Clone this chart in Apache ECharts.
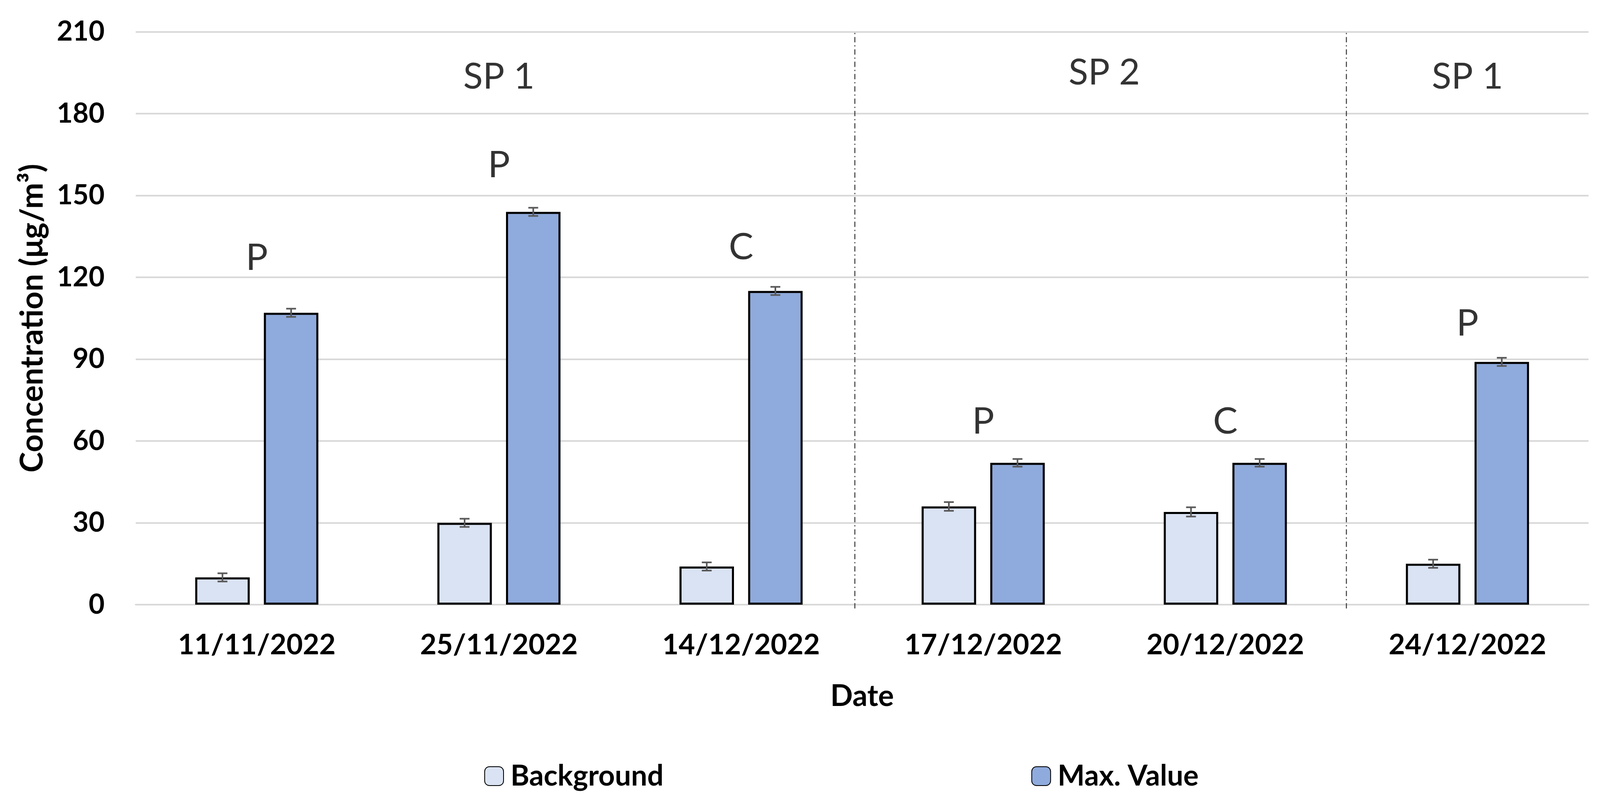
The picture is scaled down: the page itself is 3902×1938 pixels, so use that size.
<!DOCTYPE html>
<html>
<head>
<meta charset="utf-8">
<script src="https://cdn.jsdelivr.net/npm/echarts@6/dist/echarts.min.js"></script>
<style>
html,body{margin:0;padding:0;background:#fff;}
#chart{width:3902px;height:1938px;}
</style>
</head>
<body>
<div id="chart"></div>
<script>
// ---- data ----
const categories = ['11/11/2022','25/11/2022','14/12/2022','17/12/2022','20/12/2022','24/12/2022'];
const background = [10, 30, 14, 36, 34, 15];
const maxValue   = [107, 144, 115, 52, 52, 89];
const backgroundErr = [1.5, 1.5, 1.5, 1.6, 1.7, 1.5];
const maxValueErr   = [1.5, 1.5, 1.5, 1.4, 1.4, 1.5];
const letters       = ['P', 'P', 'C', 'P', 'C', 'P'];
const letterY       = [127, 161, 131, 67, 67, 103];
const siteLabels    = ['SP 1', 'SP 2', 'SP 1'];
const siteX         = [1.5, 4.0, 5.5];   // position on 0..6 category span
const siteY         = [193.5, 195, 193.5];
const separators    = [2.97, 5.0];
const separatorSpan = [-1.4, 210];
const yTicks = {min: 0, max: 210, interval: 30};

// ---- styling ----
const FONT = 'Lato';
const BAR_W = 0.225;      // fraction of category band
const BAR_GAP = 0.26;     // fraction of bar width
const colBg = '#dae3f3';
const colMax = '#8faadc';

function errRender(sIdx) {
  return function (params, api) {
    const ci = api.value(0), v = api.value(1), e = api.value(2);
    const p = api.coord([ci, v]);
    const band = api.size([1, 0])[0];
    const bw = band * BAR_W, gap = bw * BAR_GAP;
    const x = p[0] - (2 * bw + gap) / 2 + bw / 2 + sIdx * (bw + gap);
    const top = api.coord([ci, v + e])[1];
    const bot = api.coord([ci, v - e])[1];
    const cap = 12;
    const st = {stroke: '#595959', lineWidth: 4};
    return {
      type: 'group',
      children: [
        {type: 'line', shape: {x1: x, y1: top, x2: x, y2: bot}, style: st},
        {type: 'line', shape: {x1: x - cap, y1: top, x2: x + cap, y2: top}, style: st},
        {type: 'line', shape: {x1: x - cap, y1: bot, x2: x + cap, y2: bot}, style: st}
      ]
    };
  };
}

function sepRender(params, api) {
  const x = api.value(0);
  const p1 = api.coord([x, api.value(1)]);
  const p2 = api.coord([x, api.value(2)]);
  return {
    type: 'line',
    shape: {x1: p1[0], y1: p1[1], x2: p2[0], y2: p2[1]},
    style: {stroke: '#404040', lineWidth: 2.5, lineDash: [13, 7, 3, 7]}
  };
}

const chart = echarts.init(document.getElementById('chart'), null, {renderer: 'canvas'});
chart.setOption({
  backgroundColor: '#ffffff',
  animation: false,
  textStyle: {fontFamily: FONT},
  grid: {left: 331, right: 28, top: 77.5, bottom: 464, containLabel: false, outerBoundsMode: 'none'},
  legend: {
    data: ['Background', 'Max. Value'],
    left: 1176,
    top: 1852,
    itemWidth: 46,
    itemHeight: 46,
    itemGap: 897,
    textStyle: {fontFamily: FONT, fontWeight: 'bold', fontSize: 70, color: '#000', padding: [0, 0, 0, 12]}
  },
  xAxis: [
    {
      type: 'category',
      data: categories,
      axisLine: {show: true, lineStyle: {color: '#d9d9d9', width: 4}},
      axisTick: {show: false},
      axisLabel: {fontFamily: FONT, fontWeight: 'bold', fontSize: 69, color: '#000', margin: 64},
      name: 'Date',
      nameLocation: 'middle',
      nameGap: 188,
      nameTextStyle: {fontFamily: FONT, fontWeight: 'bold', fontSize: 72, color: '#000'}
    },
    {
      type: 'value', min: 0, max: 6, show: false
    }
  ],
  yAxis: {
    type: 'value',
    min: yTicks.min, max: yTicks.max, interval: yTicks.interval,
    axisLine: {show: false},
    axisTick: {show: false},
    splitLine: {lineStyle: {color: '#d9d9d9', width: 4}},
    axisLabel: {fontFamily: FONT, fontWeight: 'bold', fontSize: 67, color: '#000', margin: 76},
    name: 'Concentration (μg/m³)',
    nameLocation: 'middle',
    nameGap: 214,
    nameTextStyle: {fontFamily: FONT, fontWeight: 'bold', fontSize: 76, color: '#000'}
  },
  series: [
    {
      name: 'Background', type: 'bar', data: background,
      barWidth: (BAR_W * 100) + '%', barGap: (BAR_GAP * 100) + '%',
      itemStyle: {color: colBg, borderColor: '#000', borderWidth: 5}
    },
    {
      name: 'Max. Value', type: 'bar', data: maxValue,
      barWidth: (BAR_W * 100) + '%', barGap: (BAR_GAP * 100) + '%',
      itemStyle: {color: colMax, borderColor: '#000', borderWidth: 5}
    },
    {
      name: 'errBg', type: 'custom', z: 5,
      data: background.map((v, i) => [i, v, backgroundErr[i]]),
      encode: {x: 0, y: 1},
      renderItem: errRender(0)
    },
    {
      name: 'errMax', type: 'custom', z: 5,
      data: maxValue.map((v, i) => [i, v, maxValueErr[i]]),
      encode: {x: 0, y: 1},
      renderItem: errRender(1)
    },
    {
      name: 'separators', type: 'custom', z: 4,
      xAxisIndex: 1,
      data: separators.map(x => [x, separatorSpan[0], separatorSpan[1]]),
      encode: {x: 0, y: [1, 2]},
      renderItem: sepRender,
      clip: false
    },
    {
      name: 'letters', type: 'scatter', symbolSize: 0, z: 6,
      data: letters.map((t, i) => [i, letterY[i]]),
      label: {
        show: true, position: 'inside',
        formatter: p => letters[p.dataIndex],
        fontFamily: FONT, fontSize: 90, color: '#000'
      }
    },
    {
      name: 'sites', type: 'scatter', symbolSize: 0, z: 6,
      xAxisIndex: 1,
      data: siteX.map((x, i) => [x, siteY[i]]),
      label: {
        show: true, position: 'inside',
        formatter: p => siteLabels[p.dataIndex],
        fontFamily: FONT, fontSize: 88, color: '#000'
      }
    }
  ]
});
</script>
</body>
</html>
